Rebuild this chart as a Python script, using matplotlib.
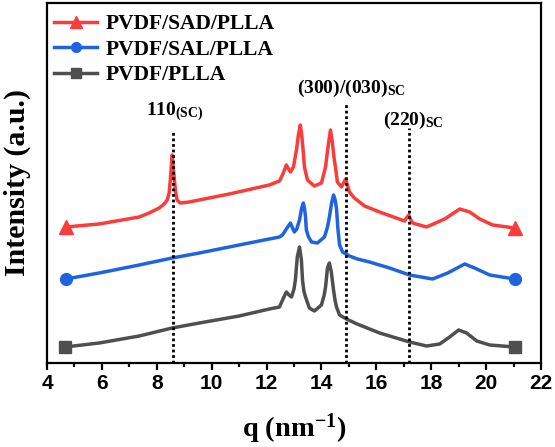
import matplotlib
matplotlib.use("Agg")
import matplotlib.pyplot as plt
from matplotlib.lines import Line2D

plt.rcParams['mathtext.fontset'] = 'custom'
plt.rcParams['mathtext.rm'] = 'Liberation Serif:bold'
plt.rcParams['mathtext.it'] = 'Liberation Serif:bold'
plt.rcParams['mathtext.bf'] = 'Liberation Serif:bold'

# data (q in nm^-1, intensity in arbitrary offset units)
q_plla = [4.66, 5.90, 7.36, 8.56, 9.55, 11.0, 12.1, 12.47, 12.6, 12.72, 12.82, 12.91,
          13.0, 13.05, 13.12, 13.2, 13.27, 13.31, 13.36, 13.42, 13.56, 13.74, 14.0,
          14.1, 14.15, 14.22, 14.29, 14.36, 14.44, 14.5, 14.55, 14.66, 14.91, 15.3,
          16.12, 17.21, 17.83, 18.31, 18.67, 19.0, 19.29, 19.66, 20.13, 21.04]
i_plla = [16, 20, 27, 35, 40, 47, 54, 56, 64, 71, 68, 66,
          74, 83, 106, 116, 103, 83, 72, 66, 55, 52, 58,
          68, 76, 95, 100, 91, 73, 62, 56, 48, 44, 39,
          30, 21, 17, 19, 26, 33, 30, 22, 18, 16]

q_sal = [4.69, 5.90, 7.36, 8.56, 9.55, 11.0, 12.1, 12.47, 12.58, 12.72, 12.87, 13.01,
         13.1, 13.2, 13.28, 13.34, 13.38, 13.42, 13.45, 13.53, 13.64, 13.85, 14.11,
         14.22, 14.29, 14.37, 14.44, 14.5, 14.55, 14.6, 14.66, 14.77, 15.02, 15.31,
         15.75, 16.48, 17.21, 18.05, 18.6, 19.22, 19.58, 20.13, 21.04]
i_sal = [84, 90, 98, 105, 110, 118, 124, 126, 128, 134, 140, 131,
         134, 143, 155, 160, 155, 146, 133, 126, 121, 120, 126,
         136, 146, 160, 168, 163, 154, 134, 118, 111, 107, 104,
         101, 95, 88, 84, 90, 99, 95, 88, 84]

q_sad = [4.69, 5.90, 7.36, 7.72, 8.09, 8.27, 8.38, 8.45, 8.5, 8.56, 8.62, 8.68,
         8.74, 8.85, 9.18, 10.64, 12.1, 12.47, 12.58, 12.72, 12.8, 12.87, 12.98,
         13.09, 13.16, 13.23, 13.27, 13.31, 13.38, 13.49, 13.74, 14.0, 14.15, 14.22,
         14.26, 14.33, 14.40, 14.46, 14.51, 14.58, 14.73, 14.88, 15.02, 15.2, 15.57,
         16.12, 17.03, 17.1, 17.18, 17.26, 17.32, 17.83, 18.49, 19.04, 19.40, 19.77,
         20.24, 21.04]
i_sad = [136, 139, 146, 150, 155, 159, 163, 170, 185, 208, 190, 172,
         163, 160, 161, 169, 178, 182, 188, 198, 194, 191, 196,
         213, 228, 238, 230, 220, 196, 183, 177, 180, 196, 212,
         220, 233, 220, 205, 196, 181, 176, 184, 171, 165, 157,
         151, 142, 145, 148, 143, 140, 136, 144, 154, 151, 144,
         138, 135]

labels = ['PVDF/SAD/PLLA', 'PVDF/SAL/PLLA', 'PVDF/PLLA']
colors = ['#f93c3c', '#1f63e0', '#4f4f4f']
markers = ['^', 'o', 's']
msizes = [10, 8.5, 8]
leg_msizes = [8, 7, 6.5]

peak_q = [8.58, 14.88, 17.2]
peak_top = [233, 261, 235]
peak_text = ['110$_{\\mathrm{(SC)}}$', '(300)/(030)$_{\\mathrm{SC}}$', '(220)$_{\\mathrm{SC}}$']
text_pos = [(7.61, 248), (13.12, 270), (16.23, 238)]

fig = plt.figure(figsize=(5.55, 4.47), dpi=100)
ax = fig.add_axes([47 / 555, 1 - 363 / 447, (541 - 47) / 555, 360 / 447])

series = [(q_sad, i_sad), (q_sal, i_sal), (q_plla, i_plla)]
handles = []
for (q, inten), c, m, ms, lms, lab in zip(series, colors, markers, msizes, leg_msizes, labels):
    ax.plot(q, inten, color=c, lw=2.5, marker=m, ms=ms, markevery=[0, len(q) - 1],
            solid_joinstyle='round')
    handles.append(Line2D([], [], color=c, lw=2.5, marker=m, ms=lms, label=lab))

for x, top in zip(peak_q, peak_top):
    ax.plot([x, x], [0, top], color='black', ls=(0, (1, 1)), lw=2)

for t, (x, y) in zip(peak_text, text_pos):
    ax.text(x, y, t, fontsize=14, family='Liberation Serif', weight='bold', va='baseline')

ax.set_xlim(4, 22)
ax.set_ylim(0, 360)
ax.set_xticks(range(4, 23, 2))
ax.set_xticks(range(5, 22, 2), minor=True)
ax.set_yticks([])
for lbl in ax.get_xticklabels():
    lbl.set_family('Liberation Sans')
    lbl.set_weight('bold')
    lbl.set_fontsize(15)
ax.tick_params(axis='x', which='major', direction='out', length=5, width=1.6, pad=3)
ax.tick_params(axis='x', which='minor', direction='out', length=3, width=1.6)
for sp in ax.spines.values():
    sp.set_linewidth(1.6)

ax.set_xlabel('q (nm$^{\\mathrm{-1}}$)', fontsize=20.5, family='Liberation Serif',
              weight='bold')
ax.xaxis.set_label_coords(0.5, -0.135)
ax.set_ylabel('Intensity (a.u.)', fontsize=21.5, family='Liberation Serif',
              weight='bold')
ax.yaxis.set_label_coords(-0.032, 0.5)

ax.legend(handles=handles, loc='upper left', bbox_to_anchor=(54 / 555, 1 - 14 / 447),
          bbox_transform=fig.transFigure, frameon=False, borderpad=0, borderaxespad=0,
          handlelength=2.0, handletextpad=0.42, labelspacing=0.26,
          prop={'family': 'Liberation Serif', 'weight': 'bold', 'size': 15.5})

fig.savefig('out.png', dpi=100)
